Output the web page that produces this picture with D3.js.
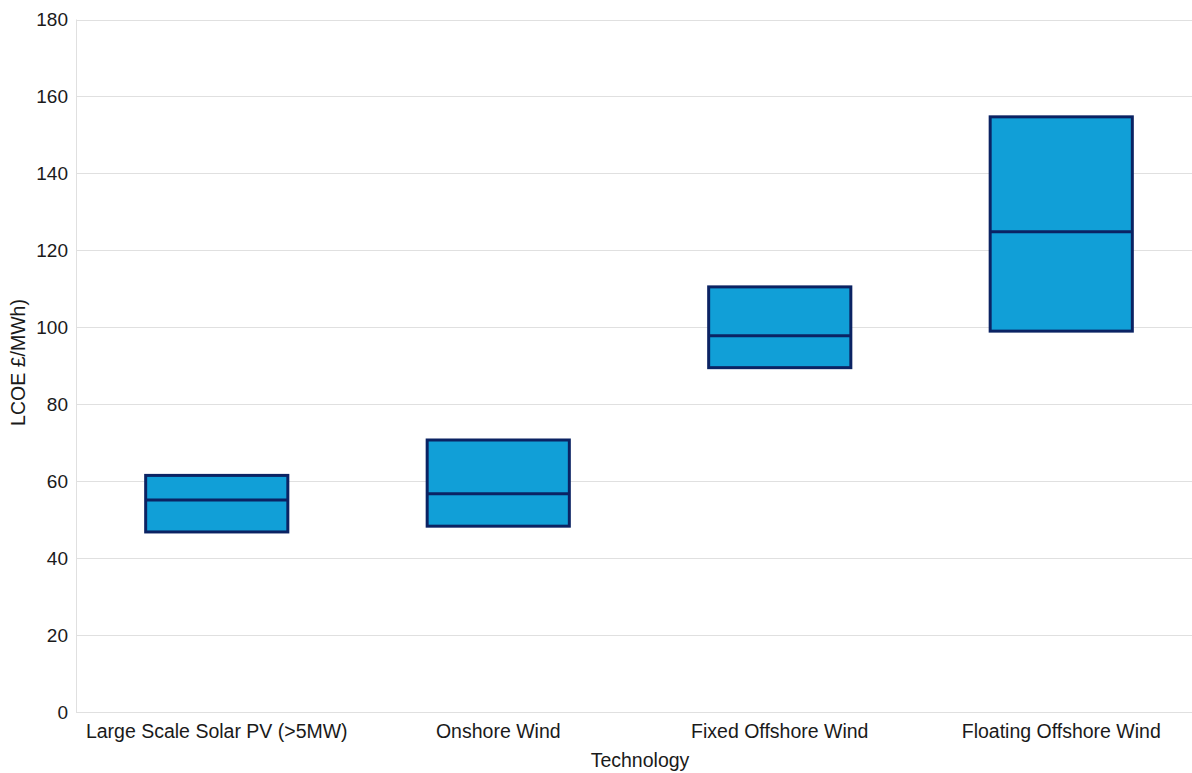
<!DOCTYPE html>
<html><head><meta charset="utf-8">
<script src="https://cdn.jsdelivr.net/npm/d3@7"></script>
<style>body{margin:0;background:#fff}svg{display:block}text{font-family:"Liberation Sans",Arial,sans-serif;fill:#1a1a1a}</style>
</head><body><svg id="c" width="1192" height="773"></svg>
<script>
const categories = ["Large Scale Solar PV (>5MW)", "Onshore Wind", "Fixed Offshore Wind", "Floating Offshore Wind"];
const lowValues = [46.8, 48.3, 89.5, 99.0];
const midValues = [55.1, 56.7, 97.8, 124.8];
const highValues = [61.5, 70.7, 110.5, 154.7];
const yTicks = [0, 20, 40, 60, 80, 100, 120, 140, 160, 180];

const svg = d3.select("#c");
const m = {left: 76, top: 19.5, bottom: 61, rightX: 1202};
const H = 773;
const x = d3.scaleBand().domain(categories).range([m.left, m.rightX]).paddingInner(0).paddingOuter(0);
const y = d3.scaleLinear().domain([0, 180]).range([H - m.bottom, m.top]);

// gridlines
svg.append("g").selectAll("line").data(yTicks).join("line")
  .attr("x1", m.left).attr("x2", 1192)
  .attr("y1", d => Math.round(y(d)) + 0.5).attr("y2", d => Math.round(y(d)) + 0.5)
  .attr("stroke", "#e0e0e0").attr("stroke-width", 1);
// left axis line
svg.append("line").attr("x1", m.left + 0.5).attr("x2", m.left + 0.5)
  .attr("y1", y(180)).attr("y2", y(0)).attr("stroke", "#e0e0e0");

const yAxis = d3.axisLeft(y).tickValues(yTicks).tickSize(0).tickPadding(8);
const gy = svg.append("g").attr("transform", `translate(${m.left},0)`).call(yAxis);
gy.select(".domain").remove();
gy.selectAll("text").style("font-size", "19px").attr("fill", "#1a1a1a").attr("font-family", "Liberation Sans, Arial, sans-serif");

const xAxis = d3.axisBottom(x).tickSize(0).tickPadding(12);
const gx = svg.append("g").attr("transform", `translate(0,${y(0)})`).call(xAxis);
gx.select(".domain").remove();
gx.selectAll("text").style("font-size", "19.5px").attr("fill", "#1a1a1a").attr("font-family", "Liberation Sans, Arial, sans-serif");

const bw = x.bandwidth() * 0.505;
const g = svg.append("g");
categories.forEach((c, i) => {
  const cx = x(c) + x.bandwidth() / 2;
  g.append("rect").attr("x", cx - bw / 2).attr("width", bw)
    .attr("y", y(highValues[i])).attr("height", y(lowValues[i]) - y(highValues[i]))
    .attr("fill", "#119fd7").attr("stroke", "#0b2363").attr("stroke-width", 3);
  g.append("line").attr("x1", cx - bw / 2).attr("x2", cx + bw / 2)
    .attr("y1", y(midValues[i])).attr("y2", y(midValues[i]))
    .attr("stroke", "#0b2363").attr("stroke-width", 3);
});

svg.append("text").attr("x", 640).attr("y", 767).attr("text-anchor", "middle")
  .style("font-size", "19.5px").text("Technology");
svg.append("text").attr("transform", "translate(25,362.5) rotate(-90)").attr("text-anchor", "middle")
  .style("font-size", "19.5px").text("LCOE £/MWh)");
</script></body></html>
